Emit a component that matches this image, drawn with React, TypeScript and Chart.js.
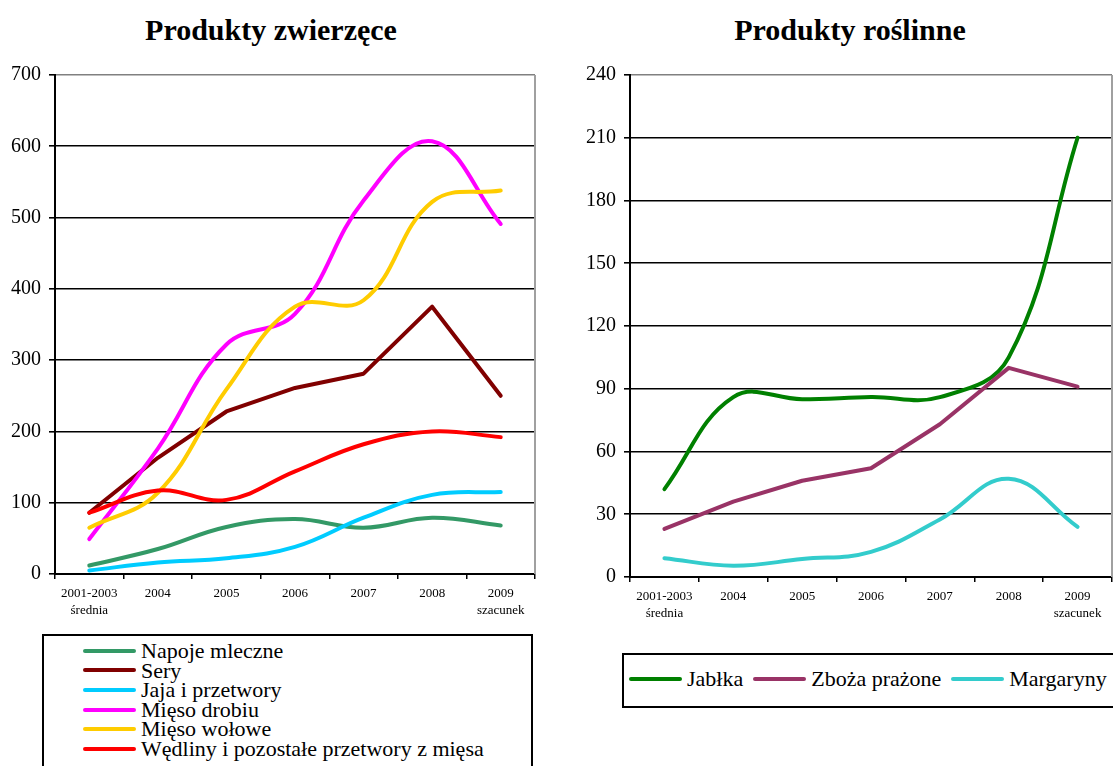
import React, { useEffect, useRef } from "react";
import { Chart, registerables } from "chart.js";

Chart.register(...registerables);

const FONT = "'Liberation Serif', 'Times New Roman', serif";

// ---- data ----
const categories: (string | string[])[] = [
  ["2001-2003", "średnia"],
  "2004",
  "2005",
  "2006",
  "2007",
  "2008",
  ["2009", "szacunek"],
];

const animalTitle = "Produkty zwierzęce";
const plantTitle = "Produkty roślinne";

const animalNames = [
  "Napoje mleczne",
  "Sery",
  "Jaja i przetwory",
  "Mięso drobiu",
  "Mięso wołowe",
  "Wędliny i pozostałe przetwory z mięsa",
];
const napojeMleczne = [12, 35, 66, 77, 65, 79, 68];
const sery = [86, 163, 228, 261, 281, 375, 250];
const jajaIPrzetwory = [5, 16, 22, 38, 79, 111, 115];
const miesoDrobiu = [49, 176, 322, 365, 524, 607, 491];
const miesoWolowe = [65, 114, 259, 375, 384, 522, 538];
const wedliny = [86, 117, 104, 144, 182, 200, 192];

const plantNames = ["Jabłka", "Zboża prażone", "Margaryny"];
const jablka = [42, 86, 85, 86, 86, 105, 210];
const zbozaPrazone = [23, 36, 46, 52, 73, 100, 91];
const margaryny = [9, 5.4, 8.6, 12, 27.5, 47, 24];

const animalTicks = { max: 700, step: 100 };
const plantTicks = { max: 240, step: 30 };

// ---- styles ----
const animalColors = ["#339966", "#800000", "#00CCFF", "#FF00FF", "#FFCC00", "#FF0000"];
const animalSmooth = [true, false, true, true, true, true];
const plantColors = ["#008000", "#993366", "#33CCCC"];
const plantSmooth = [true, false, true];

const framePlugin = {
  id: "frame",
  beforeDatasetsDraw(chart: any) {
    const { ctx, chartArea } = chart;
    ctx.save();
    ctx.strokeStyle = "#a0a0a0";
    ctx.lineWidth = 2;
    ctx.beginPath();
    ctx.moveTo(chartArea.right, chartArea.top);
    ctx.lineTo(chartArea.right, chartArea.bottom);
    ctx.stroke();
    ctx.restore();
  },
};

function buildDatasets(names: string[], series: number[][], colors: string[], smooth: boolean[]) {
  return names.map((n, i) => ({
    label: n,
    data: series[i],
    borderColor: colors[i],
    backgroundColor: colors[i],
    borderWidth: 4,
    tension: smooth[i] ? 0.4 : 0,
    pointRadius: 0,
    pointHoverRadius: 0,
    fill: false,
    order: names.length - i,
    borderCapStyle: "round",
    borderJoinStyle: "round",
  }));
}

type ChartProps = {
  left: number;
  width: number;
  height: number;
  datasets: any[];
  yMax: number;
  yStep: number;
  yWidth: number;
  padRight: number;
  xHeight: number;
};

function LineChart(p: ChartProps) {
  const ref = useRef<HTMLCanvasElement | null>(null);
  useEffect(() => {
    if (!ref.current) return;
    const chart = new Chart(ref.current, {
      type: "line",
      data: { labels: categories as any, datasets: p.datasets },
      options: {
        responsive: false,
        maintainAspectRatio: false,
        animation: false,
        devicePixelRatio: 1,
        layout: { padding: { top: 75, right: p.padRight, left: 0, bottom: 0 } },
        plugins: {
          legend: { display: false },
          title: { display: false },
          tooltip: { enabled: false },
        },
        scales: {
          x: {
            type: "category",
            offset: true,
            grid: {
              display: true,
              drawOnChartArea: false,
              drawTicks: true,
              tickLength: 5,
              offset: true,
              color: "#000",
              lineWidth: 1.5,
            },
            border: { display: true, color: "#000", width: 2 },
            ticks: {
              color: "#000",
              font: { family: FONT, size: 13, lineHeight: 1.3 },
              padding: 6,
              maxRotation: 0,
              minRotation: 0,
              autoSkip: false,
            },
            afterFit: (s: any) => {
              s.height = p.xHeight;
            },
          },
          y: {
            min: 0,
            max: p.yMax,
            ticks: {
              stepSize: p.yStep,
              color: "#000",
              font: { family: FONT, size: 20 },
              padding: 8,
            },
            grid: {
              color: (c: any) => (c.tick && c.tick.value === p.yMax ? "#808080" : "#000"),
              lineWidth: 1.6,
              tickLength: 6,
              tickColor: "#000",
              drawTicks: true,
            },
            border: { display: true, color: "#000", width: 2 },
            afterFit: (s: any) => {
              s.width = p.yWidth;
            },
          },
        },
      } as any,
      plugins: [framePlugin],
    });
    return () => chart.destroy();
  }, []);
  return (
    <canvas
      ref={ref}
      width={p.width}
      height={p.height}
      style={{ position: "absolute", left: p.left, top: 0, width: p.width, height: p.height }}
    />
  );
}

function Sample({ color }: { color: string }) {
  return (
    <div
      style={{
        width: 53,
        height: 4,
        borderRadius: 2,
        background: color,
        flex: "0 0 auto",
      }}
    />
  );
}

export default function App() {
  const animalDatasets = buildDatasets(
    animalNames,
    [napojeMleczne, sery, jajaIPrzetwory, miesoDrobiu, miesoWolowe, wedliny],
    animalColors,
    animalSmooth
  );
  const plantDatasets = buildDatasets(plantNames, [jablka, zbozaPrazone, margaryny], plantColors, plantSmooth);

  const titleStyle: React.CSSProperties = {
    position: "absolute",
    top: 15,
    fontFamily: FONT,
    fontWeight: "bold",
    fontSize: 30,
    lineHeight: "30px",
    textAlign: "center",
    color: "#000",
    whiteSpace: "nowrap",
  };

  return (
    <div
      style={{
        position: "absolute",
        left: 0,
        top: 0,
        width: 1113,
        height: 766,
        overflow: "hidden",
        background: "#fff",
        fontFamily: FONT,
      }}
    >
      <div style={{ ...titleStyle, left: 121, width: 300 }}>{animalTitle}</div>
      <div style={{ ...titleStyle, left: 700, width: 300 }}>{plantTitle}</div>

      <LineChart
        left={0}
        width={550}
        height={625}
        datasets={animalDatasets}
        yMax={animalTicks.max}
        yStep={animalTicks.step}
        yWidth={55}
        padRight={15}
        xHeight={51}
      />
      <LineChart
        left={560}
        width={553}
        height={628}
        datasets={plantDatasets}
        yMax={plantTicks.max}
        yStep={plantTicks.step}
        yWidth={70}
        padRight={1}
        xHeight={51}
      />

      {/* left legend */}
      <div
        style={{
          position: "absolute",
          left: 42,
          top: 634,
          width: 487,
          height: 160,
          border: "2px solid #000",
          paddingTop: 5,
          boxSizing: "content-box",
        }}
      >
        {animalNames.map((n, i) => (
          <div
            key={n}
            style={{ display: "flex", alignItems: "center", height: 19.6, paddingLeft: 39 }}
          >
            <Sample color={animalColors[i]} />
            <span style={{ fontSize: 22, lineHeight: "19.6px", marginLeft: 5, whiteSpace: "nowrap" }}>{n}</span>
          </div>
        ))}
      </div>

      {/* right legend */}
      <div
        style={{
          position: "absolute",
          left: 622,
          top: 653,
          width: 520,
          height: 55,
          border: "2px solid #000",
          display: "flex",
          alignItems: "center",
          paddingLeft: 5,
          paddingBottom: 3,
          boxSizing: "border-box",
        }}
      >
        {plantNames.map((n, i) => (
          <div key={n} style={{ display: "flex", alignItems: "center", marginRight: 10 }}>
            <Sample color={plantColors[i]} />
            <span style={{ fontSize: 22, lineHeight: "22px", marginLeft: 5, whiteSpace: "nowrap" }}>{n}</span>
          </div>
        ))}
      </div>
    </div>
  );
}
